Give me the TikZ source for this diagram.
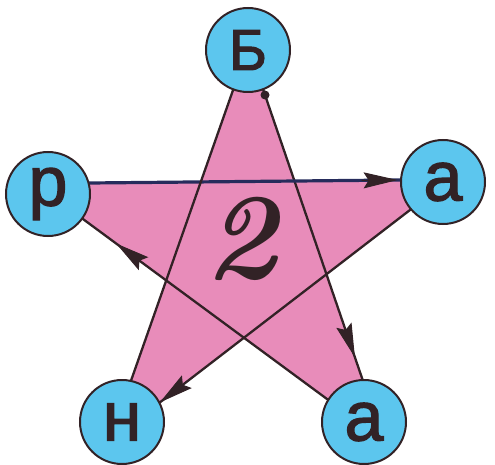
\documentclass[tikz,border=0pt]{standalone}
\usepackage{fontspec}
\newfontfamily\lettfont{Liberation Sans}[FakeBold=1.8]
\usetikzlibrary{arrows.meta,calc}
\definecolor{starpink}{RGB}{232,140,186}
\definecolor{ballblue}{RGB}{92,198,238}
\definecolor{inkbrown}{RGB}{50,34,38}
\definecolor{navyline}{RGB}{38,44,92}
\begin{document}
\begin{tikzpicture}[x=1pt,y=-1pt,
  ball/.style={circle,draw=inkbrown,line width=2pt,fill=ballblue,minimum size=84pt,inner sep=0pt,
    font=\lettfont\fontsize{70}{70}\selectfont,text=inkbrown},
  capball/.style={ball,font=\lettfont\fontsize{58}{58}\selectfont},
  edgeline/.style={draw=inkbrown,line width=2.3pt},
  tiparrow/.style={draw=inkbrown,fill=inkbrown,line width=1pt,-{Stealth[length=34pt,width=16pt,inset=5pt]}}
]
\useasboundingbox (0,0) rectangle (495,465);
% points on the five lines
\coordinate (a1) at (265,95);  \coordinate (a2) at (362,378);
\coordinate (b1) at (327,399); \coordinate (b2) at (87,222);
\coordinate (c1) at (89,183);  \coordinate (c2) at (400,180);
\coordinate (d1) at (410,210); \coordinate (d2) at (163,400);
\coordinate (e1) at (133,375); \coordinate (e2) at (232,93);
% star vertices
\coordinate (vt) at (intersection of a1--a2 and e1--e2);
\coordinate (vbr) at (intersection of a1--a2 and b1--b2);
\coordinate (vl) at (intersection of b1--b2 and c1--c2);
\coordinate (vr) at (intersection of c1--c2 and d1--d2);
\coordinate (vbl) at (intersection of d1--d2 and e1--e2);
% star
\fill[starpink] (vt) -- (vbr) -- (vl) -- (vr) -- (vbl) -- cycle;
\draw[edgeline] (vt) -- (vbr);
\draw[edgeline] (vbr) -- (vl);
\draw[edgeline,draw=navyline,line width=3.2pt] (vl) -- (vr);
\draw[edgeline] (vr) -- (vbl);
\draw[edgeline] (vbl) -- (vt);
% arrow heads
\coordinate (t1) at ($(vbr)!88pt!(vt)$);  \coordinate (s1) at ($(vbr)!124pt!(vt)$);
\coordinate (t2) at ($(vl)!101pt!(vbr)$); \coordinate (s2) at ($(vl)!137pt!(vbr)$);
\coordinate (t3) at ($(vr)!52pt!(vl)$);   \coordinate (s3) at ($(vr)!88pt!(vl)$);
\coordinate (t4) at ($(vbl)!63pt!(vr)$);  \coordinate (s4) at ($(vbl)!99pt!(vr)$);
\draw[tiparrow] (s1) -- (t1);
\draw[tiparrow] (s2) -- (t2);
\draw[tiparrow] (s3) -- (t3);
\draw[tiparrow] (s4) -- (t4);
\fill[inkbrown] (a1) circle (4.5pt);
% balls
\node[capball] (nb) at (248,50) {Б};
\node[ball] (nr) at (48,194) {р};
\node[ball] (nar) at (443,182) {а};
\node[ball] (nn) at (122,422) {н};
\node[ball] (nabr) at (364,422) {а};
% number
\node[font=\fontsize{123}{123}\selectfont\bfseries\itshape,text=inkbrown] (two) at (241,239) {2};
\end{tikzpicture}
\end{document}
